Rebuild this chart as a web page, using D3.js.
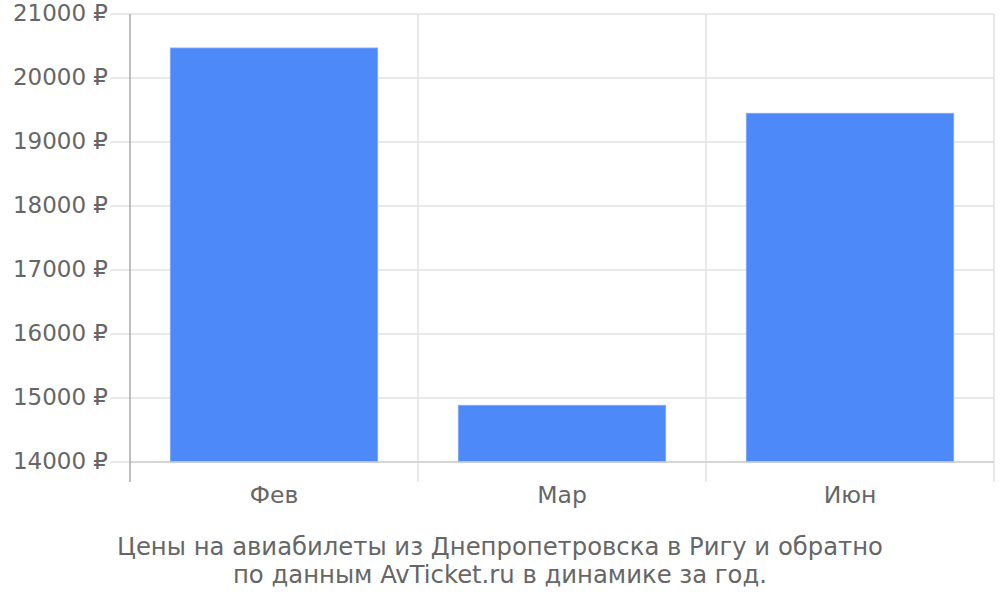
<!DOCTYPE html>
<html><head><meta charset="utf-8">
<script src="https://cdn.jsdelivr.net/npm/d3@7"></script>
<style>body{margin:0;background:#fff}svg{display:block;font-family:"DejaVu Sans",sans-serif}</style>
</head><body><svg id="c" width="1000" height="600"></svg>
<script>
const categories = ["Фев", "Мар", "Июн"];
const prices = [20469, 14886, 19449];
const yTicks = [14000, 15000, 16000, 17000, 18000, 19000, 20000, 21000];
const titleLines = ["Цены на авиабилеты из Днепропетровска в Ригу и обратно", "по данным AvTicket.ru в динамике за год."];

const svg = d3.select("#c");
const L = 130, R = 994, T = 14, B = 462;
const x = d3.scaleBand().domain(categories).range([L, R]).paddingInner(0.28).paddingOuter(0.14);
const xb = d3.scaleBand().domain(categories).range([L, R]);
const y = d3.scaleLinear().domain([14000, 21000]).range([B, T]);

// horizontal grid
svg.append("g").selectAll("line").data(yTicks).join("line")
  .attr("x1", 110).attr("x2", R).attr("y1", d => y(d)).attr("y2", d => y(d))
  .attr("stroke", "#e2e2e2").attr("stroke-width", 1.5);
// vertical grid
const vx = categories.map(c => xb(c) + xb.bandwidth());
svg.append("g").selectAll("line").data(vx).join("line")
  .attr("x1", d => d).attr("x2", d => d).attr("y1", T).attr("y2", 482)
  .attr("stroke", "#e2e2e2").attr("stroke-width", 1.5);

// bars
svg.append("g").selectAll("rect").data(prices).join("rect")
  .attr("x", (d, i) => x(categories[i])).attr("width", x.bandwidth())
  .attr("y", d => y(d)).attr("height", d => y(14000) - y(d))
  .attr("fill", "#4d89f9").attr("stroke", "#7aa6fb").attr("stroke-width", 0.8);

// axes lines
svg.append("line").attr("x1", L).attr("x2", R).attr("y1", B).attr("y2", B).attr("stroke", "#cfcfcf").attr("stroke-width", 1.5);
svg.append("line").attr("x1", L).attr("x2", L).attr("y1", T).attr("y2", 482).attr("stroke", "#aaaaaa").attr("stroke-width", 1.5);

// y labels
svg.append("g").selectAll("text").data(yTicks).join("text")
  .attr("x", 108).attr("y", d => y(d)).attr("dy", "0.29em").attr("text-anchor", "end")
  .attr("font-size", 23).attr("fill", "#666").text(d => d + " ₽");

// x labels
svg.append("g").selectAll("text").data(categories).join("text")
  .attr("x", d => xb(d) + xb.bandwidth() / 2).attr("y", 503).attr("text-anchor", "middle")
  .attr("font-size", 23.5).attr("fill", "#666").text(d => d);

// title
svg.append("g").selectAll("text").data(titleLines).join("text")
  .attr("x", 500).attr("y", (d, i) => 555 + i * 28).attr("text-anchor", "middle")
  .attr("font-size", 24.3).attr("fill", "#666").text(d => d);
</script></body></html>
